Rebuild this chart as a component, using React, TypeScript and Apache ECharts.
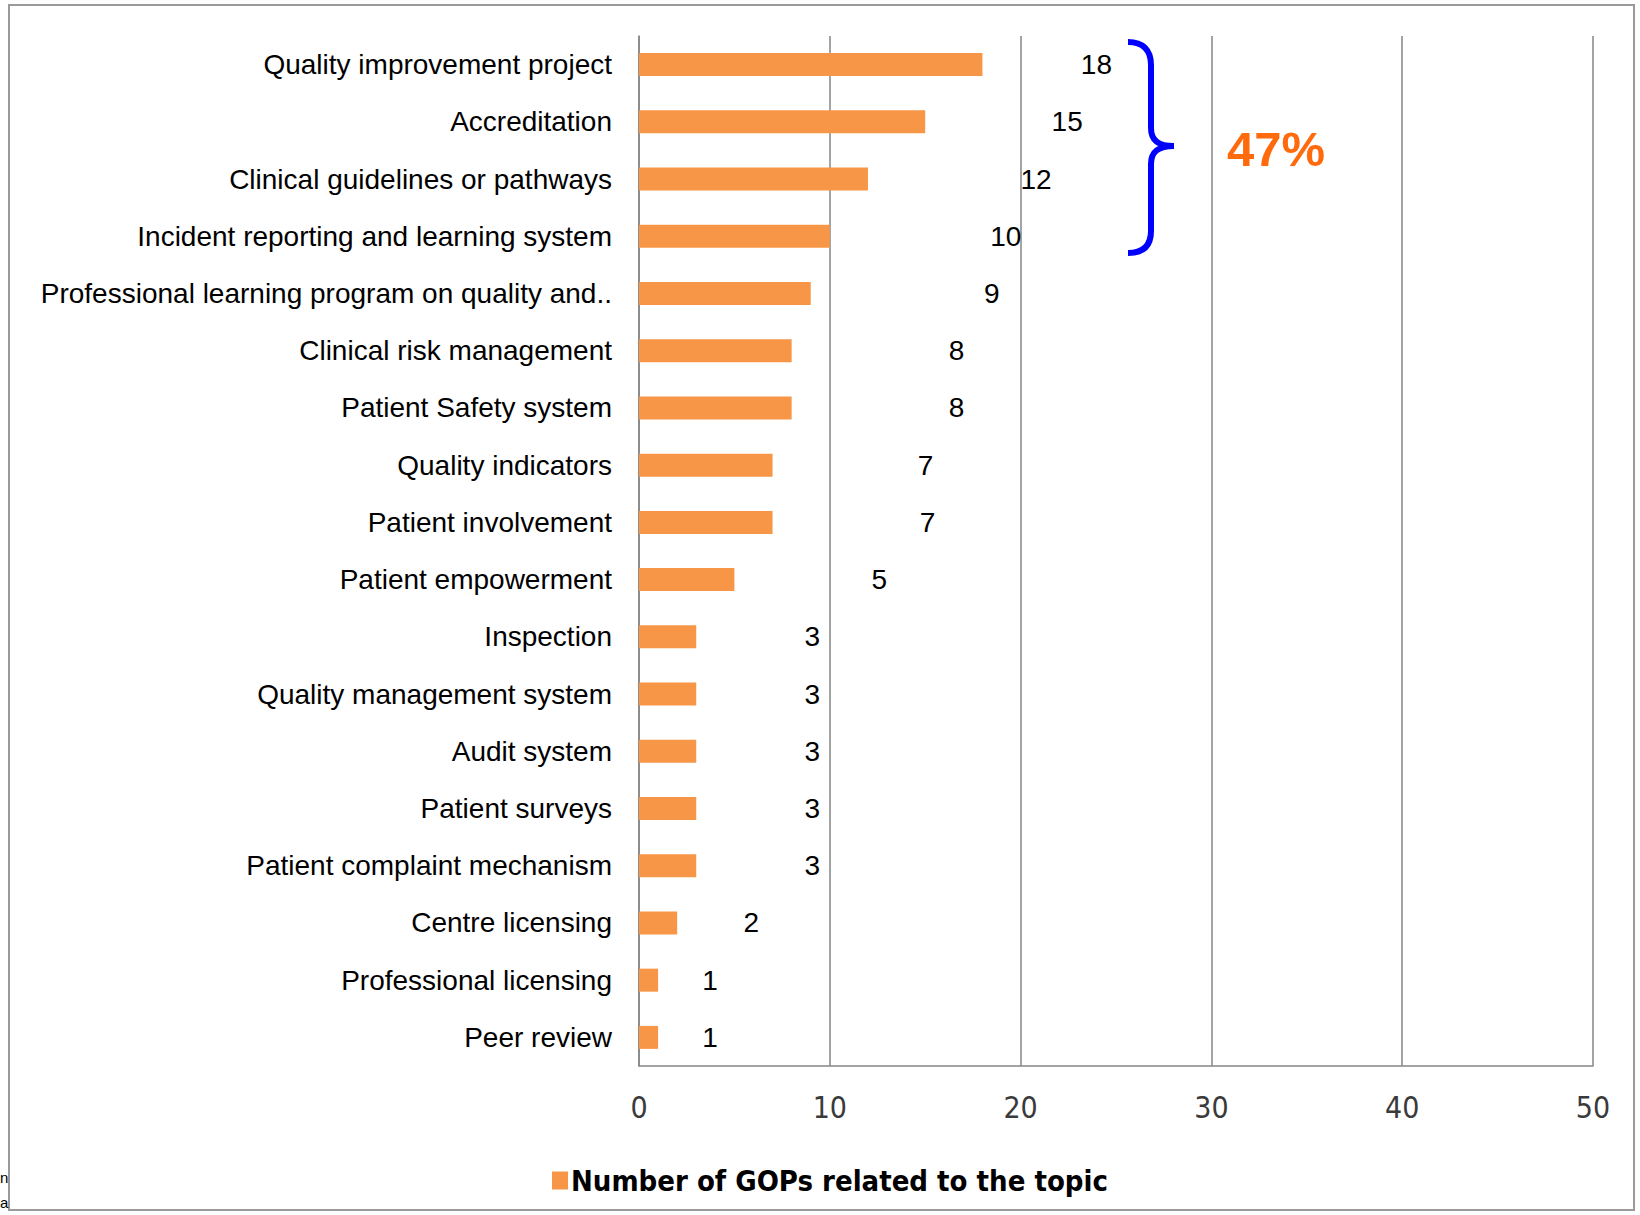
import React, { useEffect, useRef } from "react";
import * as echarts from "echarts";

const categories = [
  "Quality improvement project",
  "Accreditation",
  "Clinical guidelines or pathways",
  "Incident reporting and learning system",
  "Professional learning program on quality and..",
  "Clinical risk management",
  "Patient Safety system",
  "Quality indicators",
  "Patient involvement",
  "Patient empowerment",
  "Inspection",
  "Quality management system",
  "Audit system",
  "Patient surveys",
  "Patient complaint mechanism",
  "Centre licensing",
  "Professional licensing",
  "Peer review",
];
const values = [18, 15, 12, 10, 9, 8, 8, 7, 7, 5, 3, 3, 3, 3, 3, 2, 1, 1];
const xTicks = { min: 0, max: 50, interval: 10 };
const seriesName = "Number of GOPs related to the topic";
const annotationText = "47%";

// style: horizontal shift of each value label from its bar end (px)
const labelShift = [114, 142, 168, 176, 181, 165, 165, 153, 155, 145, 116, 116, 116, 116, 116, 74, 52, 52];

const BRACE_D =
  "M0 0 C15 0 23 8 23 23 L23 86 C23 98 30 104 46 104 C30 104 23 110 23 122 L23 189 C23 204 15 211 0 211";
let braceRegistered = false;
function registerBrace() {
  if (braceRegistered) return;
  echarts.graphic.registerShape("brace", echarts.graphic.extendPath(BRACE_D, {}));
  braceRegistered = true;
}

export default function App() {
  const ref = useRef<HTMLDivElement>(null);
  useEffect(() => {
    if (!ref.current) return;
    registerBrace();
    const chart = echarts.init(ref.current, null, { renderer: "svg" });
    const sans = "'Liberation Sans', Arial, sans-serif";
    const narrow = "'Liberation Sans Narrow', 'Arial Narrow', 'DejaVu Sans Condensed', sans-serif";
    chart.setOption({
      animation: false,
      backgroundColor: "#ffffff",
      grid: {
        left: 639,
        right: 47,
        top: 36,
        bottom: 149,
        containLabel: false,
        outerBoundsMode: "none",
      },
      legend: {
        show: true,
        left: 547,
        top: 1161,
        icon: "rect",
        itemWidth: 16,
        itemHeight: 18,
        itemGap: 10,
        data: [seriesName],
        textStyle: {
          fontFamily: narrow,
          fontWeight: "bold",
          fontSize: 29,
          color: "#000",
          padding: [0, 0, 0, -2],
        },
      },
      xAxis: {
        type: "value",
        min: xTicks.min,
        max: xTicks.max,
        interval: xTicks.interval,
        axisLine: { show: true, lineStyle: { color: "#868686", width: 1.5 } },
        axisTick: { show: false },
        splitLine: { show: true, lineStyle: { color: "#868686", width: 1.5 } },
        axisLabel: {
          fontFamily: narrow,
          fontSize: 30,
          color: "#3a3a3a",
          margin: 26,
        },
      },
      yAxis: {
        type: "category",
        inverse: true,
        data: categories,
        axisLine: { show: true, lineStyle: { color: "#868686", width: 1.5 } },
        axisTick: { show: false },
        splitLine: { show: false },
        axisLabel: {
          fontFamily: sans,
          fontSize: 28,
          color: "#000",
          margin: 27,
        },
      },
      series: [
        {
          name: seriesName,
          type: "bar",
          barWidth: 23,
          itemStyle: { color: "#F79646" },
          label: {
            show: true,
            position: "right",
            distance: 0,
            align: "center",
            fontFamily: sans,
            fontSize: 28,
            color: "#000",
          },
          data: values.map((v, i) => ({
            value: v,
            label: { offset: [labelShift[i], 0] },
          })),
        },
      ],
      graphic: [
        {
          type: "rect",
          silent: true,
          z: -10,
          shape: { x: 9, y: 5, width: 1625, height: 1205 },
          style: { fill: null, stroke: "#9a9a9a", lineWidth: 2 },
        },
        {
          type: "brace",
          x: 1128,
          y: 42,
          silent: true,
          style: { fill: null, stroke: "#0000FF", lineWidth: 6 },
        },
        {
          type: "text",
          x: 1227,
          y: 149,
          style: {
            text: annotationText,
            fontFamily: sans,
            fontWeight: "bold",
            fontSize: 49,
            fill: "#FF6A0D",
            textAlign: "left",
            textVerticalAlign: "middle",
          },
        },
        {
          type: "text",
          x: 0,
          y: 1177,
          style: {
            text: "n",
            fontFamily: sans,
            fontSize: 15,
            fill: "#000",
            textAlign: "left",
            textVerticalAlign: "middle",
          },
        },
        {
          type: "text",
          x: 0,
          y: 1202,
          style: {
            text: "a",
            fontFamily: sans,
            fontSize: 15,
            fill: "#000",
            textAlign: "left",
            textVerticalAlign: "middle",
          },
        },
      ],
    });
    return () => chart.dispose();
  }, []);
  return (
    <div
      ref={ref}
      style={{ position: "absolute", left: 0, top: 0, width: 1640, height: 1215 }}
    />
  );
}
